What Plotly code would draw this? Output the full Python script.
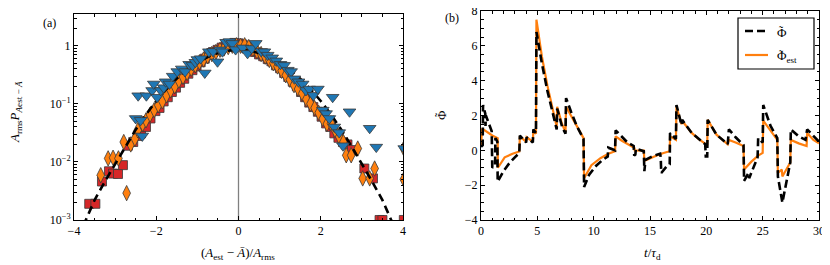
import plotly.graph_objects as go

# ---------------- panel (a) data ----------------
curve_x = [-3.9, -3.75, -3.5, -3.25, -3.0, -2.75, -2.5, -2.25, -2.0, -1.75, -1.5, -1.25, -1.0, -0.75, -0.5, -0.25, 0.0,
           0.25, 0.5, 0.75, 1.0, 1.25, 1.5, 1.75, 2.0, 2.25, 2.5, 2.75, 3.0, 3.25, 3.5, 3.75, 3.9]
curve_y = [0.0005, 0.00089, 0.0022, 0.0046, 0.0093, 0.0185, 0.0359, 0.0655, 0.112, 0.180, 0.272, 0.386, 0.513, 0.640, 0.750, 0.824, 0.851,
           0.824, 0.750, 0.640, 0.513, 0.386, 0.272, 0.180, 0.112, 0.0655, 0.0359, 0.0185, 0.0093, 0.0046, 0.0022, 0.00089, 0.0005]

red_x = [-3.63, -3.48, -3.32, -3.15, -3.05, -2.93, -2.81, -2.69, -2.56, -2.45, -2.37, -2.25, -2.14, -2.02, -1.92, -1.82, -1.72,
         -1.62, -1.52, -1.42, -1.32, -1.22, -1.12, -1.02, -0.92, -0.82, -0.72, -0.62, -0.51, -0.41, -0.31, -0.21, -0.10, 0.00,
         0.10, 0.20, 0.30, 0.40, 0.50, 0.60, 0.71, 0.80, 0.91, 1.01, 1.11, 1.21, 1.32, 1.42, 1.52, 1.62, 1.72, 1.82, 1.93, 2.02,
         2.13, 2.23, 2.33, 2.43, 2.54, 2.65, 2.76, 3.06, 3.27, 3.43, 3.50, 4.02]
red_y = [0.0019, 0.0019, 0.0046, 0.0069, 0.0063, 0.0062, 0.0088, 0.019, 0.022, 0.028, 0.031, 0.040, 0.056, 0.075, 0.085, 0.11, 0.13,
         0.16, 0.19, 0.23, 0.27, 0.33, 0.38, 0.44, 0.52, 0.60, 0.70, 0.78, 0.85, 0.93, 1.00, 1.07, 1.12, 1.10,
         1.05, 0.97, 0.86, 0.78, 0.71, 0.66, 0.59, 0.54, 0.46, 0.41, 0.34, 0.29, 0.24, 0.20, 0.16, 0.13, 0.105, 0.088, 0.073, 0.060,
         0.046, 0.040, 0.031, 0.026, 0.022, 0.020, 0.016, 0.0077, 0.0052, 0.001, 0.001, 0.001]

orange_x = [-3.35, -3.17, -3.05, -2.92, -2.79, -2.72, -2.62, -2.52, -2.45, -2.33, -2.25, -2.15, -2.05, -1.95, -1.85, -1.75, -1.65,
            -1.55, -1.45, -1.35, -1.25, -1.15, -1.05, -0.95, -0.85, -0.75, -0.65, -0.55, -0.45, -0.35, -0.25, -0.15, -0.05,
            0.05, 0.15, 0.25, 0.35, 0.45, 0.55, 0.65, 0.75, 0.85, 0.95, 1.05, 1.15, 1.25, 1.35, 1.45, 1.55, 1.65, 1.75, 1.85,
            1.95, 2.05, 2.15, 2.25, 2.35, 2.45, 2.55, 2.62, 2.74, 2.90, 3.02, 3.19, 3.31, 4.02, 4.02]
orange_y = [0.0059, 0.0115, 0.0118, 0.0115, 0.022, 0.0029, 0.020, 0.025, 0.035, 0.045, 0.052, 0.065, 0.078, 0.095, 0.11, 0.14, 0.17,
            0.20, 0.25, 0.29, 0.34, 0.40, 0.46, 0.52, 0.58, 0.66, 0.72, 0.78, 0.85, 0.90, 0.95, 1.00, 1.02,
            1.00, 1.02, 0.95, 0.88, 0.80, 0.72, 0.65, 0.57, 0.50, 0.44, 0.37, 0.31, 0.26, 0.21, 0.18, 0.15, 0.12, 0.10, 0.085,
            0.07, 0.055, 0.045, 0.046, 0.035, 0.027, 0.022, 0.013, 0.013, 0.017, 0.0052, 0.0052, 0.0077, 0.017, 0.005]

blue_x = [-2.50, -2.44, -2.38, -2.34, -2.24, -2.10, -2.06, -1.98, -1.89, -1.82, -1.77, -1.68, -1.60, -1.49, -1.38, -1.30, -1.20,
          -1.12, -1.05, -1.00, -0.92, -0.82, -0.72, -0.62, -0.51, -0.45, -0.39, -0.30, -0.22, -0.15, -0.07, 0.10, 0.22, 0.32,
          0.42, 0.55, 0.63, 0.71, 0.82, 0.92, 1.02, 1.11, 1.20, 1.28, 1.36, 1.46, 1.56, 1.64, 1.72, 1.82, 1.93, 2.05, 2.13,
          2.21, 2.29, 2.33, 2.45, 2.54, 2.70, 3.19, 3.35, 4.03]
blue_y = [0.056, 0.138, 0.052, 0.028, 0.138, 0.17, 0.22, 0.13, 0.17, 0.19, 0.24, 0.22, 0.30, 0.36, 0.40, 0.36, 0.48,
          0.46, 0.52, 0.58, 0.60, 0.34, 0.79, 0.80, 0.53, 0.85, 0.79, 1.15, 1.18, 1.10, 0.86, 0.92, 0.74, 0.90,
          1.10, 0.80, 0.79, 0.69, 0.62, 0.55, 0.48, 0.46, 0.38, 0.36, 0.27, 0.24, 0.22, 0.17, 0.18, 0.14, 0.18, 0.078, 0.068,
          0.056, 0.13, 0.040, 0.032, 0.019, 0.073, 0.038, 0.018, 0.017]

# ---------------- panel (b) data ----------------
phi_t = [0.00, 0.15, 0.18, 0.38, 0.40, 0.43, 0.95, 1.00, 1.25, 1.28, 1.45, 1.48, 2.0, 2.5, 3.0, 3.4, 3.45, 4.0, 4.05, 4.6,
         4.65, 4.88, 4.92, 5.4, 5.9, 6.3, 6.72, 6.76, 7.2, 7.5, 7.55, 8.0, 8.5, 9.1, 9.15, 9.6, 10.2, 10.8, 11.25, 11.3,
         11.9, 11.95, 12.5, 13.0, 13.55, 13.6, 13.7, 13.75, 14.45, 14.5, 14.6, 15.2, 15.9, 15.95, 16.0, 16.5, 16.75, 16.78,
         17.3, 17.35, 17.8, 17.85, 18.7, 19.3, 19.9, 19.95, 20.08, 20.12, 20.9, 21.9, 22.0, 22.6, 23.3, 23.35, 23.75, 23.8,
         24.55, 24.6, 25.0, 25.05, 25.7, 26.3, 26.35, 26.75, 27.3, 27.45, 27.5, 28.2, 28.8, 28.95, 30.0]
phi_v = [0.2, 0.3, 2.6, 2.1, 1.4, 2.0, 1.1, -1.0, -0.85, 0.7, 0.5, -1.8, -1.2, -0.75, -0.4, -0.15, 0.85, 0.45, 0.75, 0.45,
         1.2, 1.0, 6.8, 5.0, 3.4, 2.4, 1.2, 2.4, 1.35, 0.95, 3.0, 2.2, 1.4, 0.65, -2.1, -1.4, -0.9, -0.55, -0.35, 0.15,
         0.0, 1.15, 0.75, 0.45, 0.25, -0.3, -0.25, 0.1, -0.05, -1.2, -0.55, -0.35, -0.2, -0.4, -1.3, -0.9, -0.8, 1.0,
         0.65, 2.6, 1.45, 1.75, 1.0, 0.65, 0.35, -0.35, -0.35, 1.75, 0.9, 0.35, 1.2, 0.75, 0.3, -1.75, -1.3, -1.6,
         -0.4, 0.7, 0.45, 2.6, 1.4, 0.7, -1.5, -3.0, -1.0, -0.7, 1.2, 0.8, 0.6, 1.2, 0.5]

est_t = [0.0, 0.1, 1.0, 1.48, 1.5, 2.1, 2.8, 3.4, 3.45, 4.0, 4.05, 4.6, 4.65, 4.88, 4.92, 5.4, 5.9, 6.3, 6.72, 6.76,
         7.2, 7.5, 7.55, 8.2, 8.6, 9.1, 9.15, 9.8, 10.6, 11.3, 11.9, 11.95, 12.5, 13.0, 13.6, 13.65, 14.45, 14.5, 15.0,
         15.6, 16.2, 16.75, 16.78, 17.3, 17.35, 17.8, 17.85, 18.7, 19.3, 19.95, 20.08, 20.12, 20.9, 21.9, 22.0, 22.6,
         23.3, 23.35, 24.0, 24.6, 25.0, 25.05, 25.7, 26.3, 26.35, 26.7, 26.75, 27.45, 27.5, 28.2, 28.9, 28.95, 29.5, 30.0]
est_v = [0.3, 1.25, 0.85, 0.7, -1.0, -0.4, -0.2, -0.07, 0.8, 0.5, 0.75, 0.5, 1.15, 0.95, 7.5, 5.4, 3.7, 2.6, 1.35, 2.5,
         1.5, 1.05, 2.5, 1.75, 1.3, 0.7, -1.6, -0.85, -0.45, -0.2, -0.05, 0.8, 0.55, 0.35, 0.15, 0.0, -0.02, -0.6, -0.45,
         -0.3, -0.15, -0.05, 0.8, 0.6, 2.5, 1.5, 1.7, 1.0, 0.65, 0.35, 0.3, 1.75, 0.9, 0.35, 0.6, 0.45,
         0.25, -1.1, -0.65, -0.3, -0.15, 1.7, 1.1, 0.6, -1.3, -1.1, -1.5, -0.7, 0.6, 0.4, 0.25, 1.0, 0.6, 0.4]

legend_names = ["Φ", "Φ<sub>est</sub>"]

FONT = "Liberation Serif"
# the page body has an 8px margin: the figure is drawn 8px in from the top-left corner
OFF = 8
FW, FH = 830 - OFF, 265 - OFF


def PX(x):
    return (x - OFF) / FW


def PY(y):
    return 1 - (y - OFF) / FH


fig = go.Figure()

mk_line = dict(color="#3a3a3a", width=0.8)
fig.add_trace(go.Scatter(x=red_x, y=red_y, mode="markers", xaxis="x", yaxis="y", showlegend=False,
                         marker=dict(symbol="square", size=9, color="#d62728", line=mk_line)))
fig.add_trace(go.Scatter(x=orange_x, y=orange_y, mode="markers", xaxis="x", yaxis="y", showlegend=False,
                         marker=dict(symbol="diamond-tall", size=11, color="#ff7f0e", line=mk_line)))
fig.add_trace(go.Scatter(x=curve_x, y=curve_y, mode="lines", xaxis="x", yaxis="y", showlegend=False,
                         line=dict(color="black", width=2.6, dash="8px,5px")))
fig.add_trace(go.Scatter(x=blue_x, y=blue_y, mode="markers", xaxis="x", yaxis="y", showlegend=False,
                         marker=dict(symbol="triangle-down", size=11, color="#1f77b4", line=mk_line)))

fig.add_trace(go.Scatter(x=est_t, y=est_v, mode="lines", xaxis="x2", yaxis="y2", showlegend=False,
                         line=dict(color="#ff7f0e", width=2.2)))
fig.add_trace(go.Scatter(x=phi_t, y=phi_v, mode="lines", xaxis="x2", yaxis="y2", showlegend=False,
                         line=dict(color="black", width=2.6, dash="8px,4px")))

tickfont = dict(family=FONT, size=12, color="black")
common = dict(showline=True, linecolor="black", linewidth=1, mirror="ticks", ticks="inside",
              ticklen=4, tickwidth=1, tickcolor="black", showgrid=False, zeroline=False,
              tickfont=tickfont, automargin=False, ticklabeloverflow="allow")

minor_log = [m * 10 ** e for e in (-3, -2, -1, 0) for m in range(2, 10)]


def ann(text, px, py, size=13, angle=0, xanchor="center"):
    return dict(text=text, xref="paper", yref="paper", x=PX(px), y=PY(py), showarrow=False,
                textangle=angle, xanchor=xanchor, yanchor="middle",
                font=dict(family=FONT, size=size, color="black"))


shapes = [
    dict(type="line", xref="x", yref="y domain", x0=0, x1=0, y0=0, y1=1,
         line=dict(color="#808080", width=1.3), layer="below"),
    # legend box and samples
    dict(type="rect", xref="paper", yref="paper", x0=PX(738), x1=PX(814), y0=PY(69), y1=PY(18),
         line=dict(color="black", width=1.2), fillcolor="white", layer="above"),
    dict(type="line", xref="paper", yref="paper", x0=PX(745), x1=PX(768), y0=PY(31), y1=PY(31),
         line=dict(color="black", width=2.6, dash="8px,4px")),
    dict(type="line", xref="paper", yref="paper", x0=PX(745), x1=PX(768), y0=PY(55), y1=PY(55),
         line=dict(color="#ff7f0e", width=2.2)),
]

annotations = [
    ann("(a)", 49.5, 23, 12),
    ann("(b)", 451.5, 18.5, 12),
    ann("(<i>A</i><sub>est</sub> − <i>Ā</i>)/<i>A</i><sub>rms</sub>", 238, 253),
    ann("<i>A</i><sub>rms</sub><i>P</i><sub><i>A</i>est − <i>Ā</i></sub>", 15, 112, angle=-90),
    ann("<i>t</i>/<i>τ</i><sub>d</sub>", 652, 253),
    ann("Φ", 441, 115, 13, angle=-90),
    ann("˜", 440, 115, 12, angle=-90),
    ann(legend_names[0], 775, 32, 13, xanchor="left"),
    ann("˜", 776.5, 30.5, 12, xanchor="left"),
    ann(legend_names[1], 775, 56, 13, xanchor="left"),
    ann("˜", 776.5, 54.5, 12, xanchor="left"),
]

fig.update_layout(
    width=FW, height=FH, margin=dict(l=0, r=0, t=0, b=0, autoexpand=False),
    paper_bgcolor="white", plot_bgcolor="white", showlegend=False,
    font=dict(family=FONT, size=12, color="black"),
    xaxis=dict(domain=[PX(74), PX(403)], range=[-4.0001, 4.0001], tickvals=[-4, -2, 0, 2, 4],
               minor=dict(ticks="inside", ticklen=2.5, dtick=0.5, tickcolor="black"),
               anchor="y", **common),
    yaxis=dict(domain=[PY(220), PY(14)], type="log", range=[-3.0001, 0.547],
               tickvals=[0.001, 0.01, 0.1, 1], ticktext=["10<sup>−3</sup>", "10<sup>−2</sup>", "10<sup>−1</sup>", "1"],
               minor=dict(ticks="inside", ticklen=2.5, tickvals=minor_log, tickcolor="black"),
               anchor="x", **common),
    xaxis2=dict(domain=[PX(481), PX(819)], range=[-0.0001, 30.0001], tickvals=[0, 5, 10, 15, 20, 25, 30],
                minor=dict(ticks="inside", ticklen=2.5, dtick=1, tickcolor="black"),
                anchor="y2", **common),
    yaxis2=dict(domain=[PY(220), PY(11)], range=[-4.0001, 8.0001], tickvals=[-4, -2, 0, 2, 4, 6, 8],
                minor=dict(ticks="inside", ticklen=2.5, dtick=0.5, tickcolor="black"),
                anchor="x2", **common),
    shapes=shapes,
    annotations=annotations,
)

fig.write_html("out.html")
